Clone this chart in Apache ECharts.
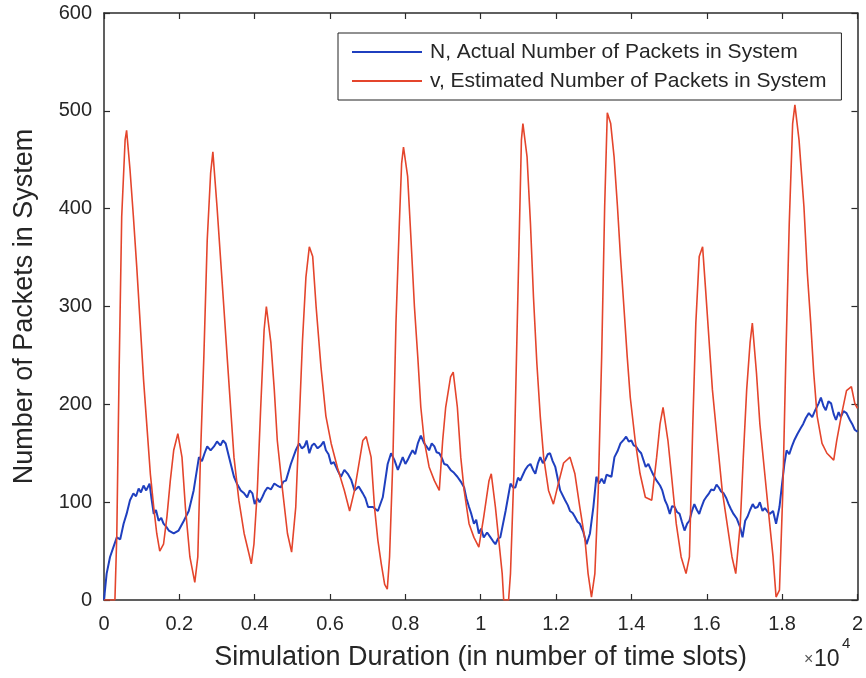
<!DOCTYPE html>
<html>
<head>
<meta charset="utf-8">
<script src="https://cdn.jsdelivr.net/npm/echarts@6/dist/echarts.min.js"></script>
<style>
html,body{margin:0;padding:0;background:#fff;}
#chart{width:866px;height:678px;}
</style>
</head>
<body>
<div id="chart"></div>
<script>
// x in units of 10^4 time slots
const seriesNames = ['N, Actual Number of Packets in System', 'v, Estimated Number of Packets in System'];

const nX = [0,0.007,0.016,0.025,0.034,0.043,0.052,0.060,0.069,0.078,0.085,0.092,0.098,0.105,0.112,0.121,0.126,0.132,0.138,0.145,0.152,0.158,0.165,0.172,0.185,0.198,0.212,0.225,0.238,0.252,0.260,0.267,0.274,0.283,0.292,0.300,0.309,0.316,0.323,0.332,0.345,0.354,0.363,0.372,0.380,0.387,0.394,0.400,0.407,0.413,0.420,0.427,0.434,0.443,0.452,0.460,0.469,0.476,0.483,0.496,0.509,0.518,0.525,0.532,0.538,0.545,0.552,0.558,0.567,0.576,0.583,0.589,0.596,0.603,0.610,0.616,0.622,0.629,0.638,0.647,0.656,0.665,0.676,0.687,0.694,0.701,0.714,0.727,0.740,0.753,0.762,0.771,0.780,0.787,0.793,0.800,0.806,0.812,0.819,0.826,0.833,0.841,0.850,0.856,0.863,0.870,0.877,0.883,0.890,0.897,0.903,0.911,0.920,0.929,0.938,0.947,0.956,0.962,0.969,0.975,0.982,0.988,0.995,1.001,1.008,1.017,1.026,1.033,1.039,1.046,1.052,1.066,1.079,1.086,1.092,1.099,1.105,1.112,1.118,1.125,1.132,1.139,1.145,1.152,1.158,1.165,1.171,1.178,1.184,1.191,1.198,1.211,1.224,1.231,1.237,1.244,1.250,1.257,1.263,1.272,1.281,1.290,1.299,1.307,1.314,1.321,1.328,1.334,1.347,1.355,1.363,1.371,1.380,1.386,1.393,1.400,1.406,1.412,1.419,1.426,1.432,1.438,1.445,1.452,1.458,1.467,1.476,1.482,1.489,1.495,1.502,1.508,1.515,1.521,1.528,1.534,1.541,1.548,1.554,1.560,1.567,1.574,1.580,1.586,1.593,1.600,1.606,1.612,1.619,1.626,1.632,1.638,1.645,1.652,1.658,1.664,1.671,1.680,1.689,1.695,1.702,1.708,1.715,1.722,1.728,1.735,1.741,1.748,1.754,1.760,1.767,1.776,1.784,1.793,1.800,1.806,1.812,1.819,1.826,1.832,1.841,1.850,1.856,1.863,1.871,1.880,1.888,1.897,1.903,1.910,1.916,1.923,1.930,1.937,1.943,1.950,1.956,1.963,1.971,1.980,1.986,1.993,2.0];
const nY = [0,27,44,54,64,62,78,88,102,109,106,114,110,117,112,119,104,88,92,81,84,78,75,71,68,71,81,91,112,146,142,150,157,153,157,162,158,163,160,146,126,118,112,109,105,112,109,98,104,100,105,111,115,113,119,117,115,121,122,139,153,160,155,157,163,150,158,160,155,158,162,153,149,139,141,136,131,126,133,129,123,112,116,109,104,95,95,91,105,139,150,143,133,140,146,139,143,148,153,149,160,168,160,157,153,160,157,151,150,145,139,138,133,130,126,121,115,104,95,88,78,82,68,73,64,69,64,60,57,63,64,91,119,115,115,125,122,128,133,137,139,133,129,140,146,140,143,149,150,142,136,112,102,97,91,89,85,80,78,70,57,68,95,126,119,124,119,128,126,146,152,160,164,167,162,163,158,157,153,150,143,136,139,133,128,122,117,112,102,97,88,96,95,90,88,80,71,78,81,90,98,92,88,95,102,106,109,113,112,118,115,111,109,104,98,93,88,83,74,64,81,85,92,98,94,95,100,91,94,91,88,91,78,95,119,139,153,149,157,163,170,176,180,186,191,187,194,201,207,198,194,203,201,190,184,192,187,193,191,184,180,174,172];

const vX = [0,0.029,0.034,0.040,0.047,0.056,0.060,0.069,0.078,0.087,0.096,0.105,0.114,0.123,0.132,0.140,0.148,0.158,0.167,0.176,0.185,0.196,0.207,0.216,0.228,0.241,0.249,0.256,0.265,0.274,0.283,0.289,0.300,0.309,0.318,0.327,0.336,0.345,0.358,0.372,0.385,0.391,0.398,0.407,0.416,0.425,0.431,0.443,0.452,0.460,0.474,0.487,0.498,0.509,0.518,0.527,0.536,0.545,0.554,0.563,0.576,0.589,0.603,0.620,0.638,0.652,0.665,0.687,0.696,0.709,0.718,0.727,0.736,0.745,0.752,0.758,0.767,0.775,0.784,0.790,0.795,0.806,0.815,0.824,0.833,0.841,0.850,0.863,0.877,0.890,0.899,0.907,0.920,0.927,0.938,0.947,0.956,0.969,0.982,0.995,1.008,1.022,1.028,1.039,1.048,1.057,1.061,1.074,1.079,1.088,1.096,1.103,1.108,1.112,1.123,1.132,1.140,1.149,1.158,1.167,1.180,1.193,1.206,1.220,1.237,1.250,1.263,1.277,1.285,1.294,1.303,1.312,1.321,1.329,1.336,1.345,1.354,1.363,1.371,1.380,1.389,1.397,1.410,1.423,1.437,1.454,1.467,1.476,1.484,1.497,1.506,1.519,1.532,1.545,1.554,1.563,1.571,1.580,1.589,1.597,1.606,1.615,1.628,1.641,1.654,1.667,1.677,1.689,1.697,1.706,1.715,1.721,1.732,1.741,1.754,1.767,1.776,1.784,1.793,1.802,1.810,1.819,1.828,1.834,1.845,1.858,1.867,1.876,1.884,1.893,1.906,1.919,1.937,1.945,1.958,1.971,1.984,1.993,2.0];
const vY = [0,0,67,231,392,470,480,440,392,340,283,225,177,129,95,68,50,57,85,122,153,170,146,95,44,18,44,146,248,368,436,458,402,351,300,248,197,146,102,68,47,37,57,112,197,276,300,263,215,163,112,68,49,95,180,266,330,361,351,300,238,188,160,135,112,91,112,163,167,146,95,61,37,16,11,44,146,283,385,446,463,433,368,300,248,197,163,136,122,112,163,197,228,233,197,146,112,78,64,54,85,122,129,95,61,27,0,0,27,129,266,385,470,487,453,385,310,242,188,146,112,98,119,140,146,129,95,61,27,3,27,112,248,402,498,487,453,402,351,300,248,207,163,129,105,102,146,180,197,163,129,78,44,27,44,180,283,351,361,317,266,215,163,112,78,44,27,78,146,215,263,283,232,180,129,78,44,3,10,112,248,385,487,506,470,402,334,283,232,188,160,150,143,163,190,214,218,201,196];

const xMin = 0, xMax = 2, xStep = 0.2;
const yMin = 0, yMax = 600, yStep = 100;

const nData = nX.map((x, i) => [x, nY[i]]);
const vData = vX.map((x, i) => [x, vY[i]]);

const FONT = 'Liberation Sans, Arial, Helvetica, sans-serif';
const TXT = '#262626';
const AX = '#2b2b2b';

const chart = echarts.init(document.getElementById('chart'), null, {renderer: 'canvas'});

const baseAxis = {
  axisLine: {show: true, onZero: false, lineStyle: {color: AX, width: 1.5}},
  axisTick: {show: true, inside: true, length: 6, lineStyle: {color: AX, width: 1.2}},
  splitLine: {show: false},
  axisLabel: {color: TXT, fontFamily: FONT, fontSize: 20},
  nameTextStyle: {color: TXT, fontFamily: FONT, fontSize: 27}
};

chart.setOption({
  animation: false,
  backgroundColor: '#fff',
  grid: {left: 104, right: 8, top: 13, bottom: 78, containLabel: false},
  legend: {
    orient: 'vertical',
    left: 338,
    top: 33,
    backgroundColor: '#fff',
    borderColor: '#222',
    borderWidth: 1,
    borderRadius: 0,
    padding: [8, 15, 8, 14],
    itemGap: 7,
    itemWidth: 70,
    itemHeight: 2,
    icon: 'rect',
    textStyle: {color: TXT, fontFamily: FONT, fontSize: 21, lineHeight: 22, padding: [0, 0, 0, 3]},
    data: seriesNames
  },
  xAxis: [
    Object.assign({}, baseAxis, {
      type: 'value', position: 'bottom', min: xMin, max: xMax, interval: xStep,
      axisLabel: Object.assign({}, baseAxis.axisLabel, {margin: 14}),
      name: 'Simulation Duration (in number of time slots)',
      nameLocation: 'middle', nameGap: 44
    }),
    Object.assign({}, baseAxis, {
      type: 'value', position: 'top', min: xMin, max: xMax, interval: xStep,
      axisLabel: {show: false}
    })
  ],
  yAxis: [
    Object.assign({}, baseAxis, {
      type: 'value', position: 'left', min: yMin, max: yMax, interval: yStep,
      axisLabel: Object.assign({}, baseAxis.axisLabel, {margin: 12}),
      name: 'Number of Packets in System',
      nameLocation: 'middle', nameGap: 66
    }),
    Object.assign({}, baseAxis, {
      type: 'value', position: 'right', min: yMin, max: yMax, interval: yStep,
      axisLabel: {show: false}
    })
  ],
  graphic: [
    {type: 'text', left: 804, top: 652, style: {text: '×', fill: '#555', font: '16px ' + FONT}},
    {type: 'text', left: 814, top: 648, style: {text: '10', fill: TXT, font: '23px ' + FONT}},
    {type: 'text', left: 842, top: 636, style: {text: '4', fill: TXT, font: '15px ' + FONT}}
  ],
  series: [
    {
      name: seriesNames[0], type: 'line', data: nData, showSymbol: false,
      lineStyle: {color: '#1f3fbf', width: 2}, itemStyle: {color: '#1f3fbf'}, z: 2
    },
    {
      name: seriesNames[1], type: 'line', data: vData, showSymbol: false,
      lineStyle: {color: '#e4452c', width: 1.6}, itemStyle: {color: '#e4452c'}, z: 3
    }
  ]
});
</script>
</body>
</html>
